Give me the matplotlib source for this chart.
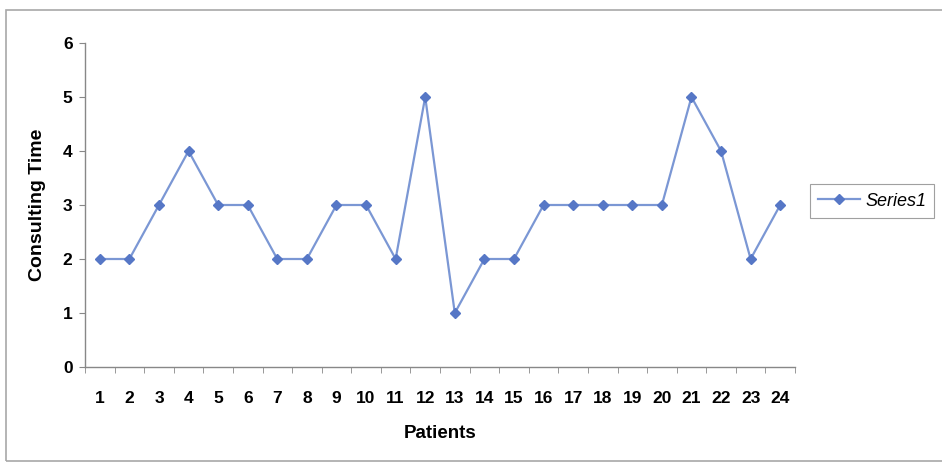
import matplotlib
matplotlib.use("Agg")
import matplotlib.pyplot as plt
from matplotlib.patches import Rectangle
from matplotlib.ticker import FixedLocator

patients = list(range(1, 25))
consulting_time = [2, 2, 3, 4, 3, 3, 2, 2, 3, 3, 2, 5, 1, 2, 2, 3, 3, 3, 3, 3, 5, 4, 2, 3]
y_ticks = [0, 1, 2, 3, 4, 5, 6]
series_name = "Series1"

plt.rcParams['font.family'] = ['Liberation Sans', 'DejaVu Sans']

fig = plt.figure(figsize=(9.42, 4.63), dpi=100)
fig.patch.set_facecolor('white')
fig.add_artist(Rectangle((6/942, 1 - 461/463), (950-6)/942, (461-10)/463,
                         transform=fig.transFigure, fill=False,
                         edgecolor='#a8a8a8', linewidth=1.2))

ax = fig.add_axes([85/942, 1 - 367/463, (795-85)/942, (367-43)/463])
ax.plot(patients, consulting_time, color='#7b97d4', linewidth=1.6,
        marker='D', markersize=5.5, markerfacecolor='#5677c6',
        markeredgecolor='#5677c6', label=series_name)

ax.set_xlim(0.5, 24.5)
ax.set_ylim(0, 6)
ax.set_yticks(y_ticks)
ax.set_xticks(patients)
ax.xaxis.set_minor_locator(FixedLocator([i + 0.5 for i in range(0, 25)]))
ax.tick_params(axis='x', which='major', length=0, pad=17)
ax.tick_params(axis='x', which='minor', length=4, color='#888888', direction='out')
ax.tick_params(axis='y', length=4, color='#888888', pad=5)
for lab in ax.get_xticklabels() + ax.get_yticklabels():
    lab.set_fontweight('bold')
    lab.set_fontsize(12.5)
for s in ['top', 'right']:
    ax.spines[s].set_visible(False)
for s in ['left', 'bottom']:
    ax.spines[s].set_color('#888888')
    ax.spines[s].set_linewidth(1.0)

ax.set_ylabel('Consulting Time', fontsize=14, fontweight='bold', labelpad=12)
ax.set_xlabel('Patients', fontsize=13.5, fontweight='bold', labelpad=14)

leg = ax.legend(loc='center left', bbox_to_anchor=(810/942, 1 - 201/463),
                bbox_transform=fig.transFigure, frameon=True, fancybox=False,
                prop={'style': 'italic', 'size': 13}, handlelength=2.3,
                handletextpad=0.3, borderpad=0.45, borderaxespad=0)
leg.get_frame().set_edgecolor('#888888')
leg.get_frame().set_linewidth(0.8)

fig.savefig('out.png', dpi=100)
